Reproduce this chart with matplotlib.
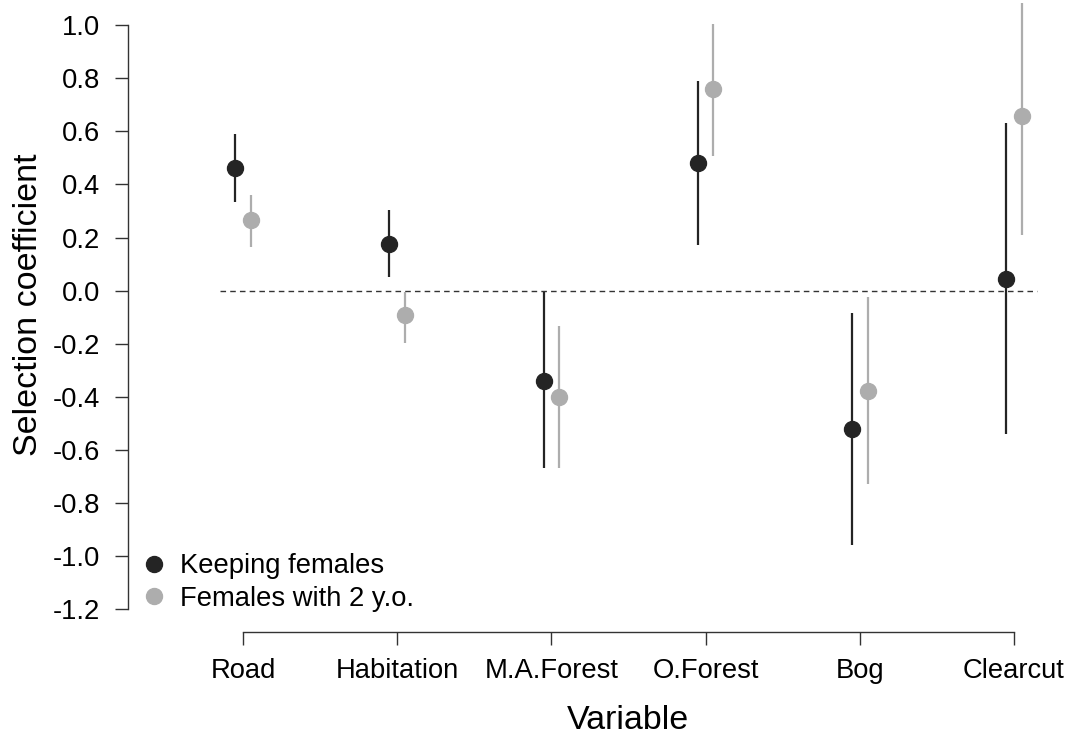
import numpy as np
import matplotlib
matplotlib.use('Agg')
from matplotlib import pyplot as plt

plt.rcParams['font.family'] = ['Liberation Sans', 'DejaVu Sans']

variables = ['Road', 'Habitation', 'M.A.Forest', 'O.Forest', 'Bog', 'Clearcut']
# Keeping females: estimate, lower and upper bound
keep_est = [0.46, 0.175, -0.34, 0.48, -0.52, 0.045]
keep_low = [0.335, 0.05, -0.67, 0.17, -0.96, -0.54]
keep_up = [0.59, 0.305, -0.005, 0.79, -0.085, 0.63]
# Females with 2 y.o.
yo_est = [0.265, -0.093, -0.40, 0.758, -0.377, 0.657]
yo_low = [0.165, -0.198, -0.668, 0.508, -0.73, 0.208]
yo_up = [0.36, -0.005, -0.134, 1.006, -0.023, 1.084]
yticks = [-1.2, -1.0, -0.8, -0.6, -0.4, -0.2, 0.0, 0.2, 0.4, 0.6, 0.8, 1.0]

dark = '#242424'
light = '#adadad'

fig = plt.figure(figsize=(10.7, 7.4), dpi=100)
ax = fig.add_axes([128/1070, 108/740, 942/1070, 632/740])

xx = np.arange(1, len(variables) + 1)
ax.plot([0.85, 6.15], [0, 0], '--', color='#333333', linewidth=1.0, dashes=(4, 3))

ax.vlines(xx - 0.05, keep_low, keep_up, color=dark, linewidth=1.6)
ax.vlines(xx + 0.05, yo_low, yo_up, color=light, linewidth=1.6)
ax.plot(xx - 0.05, keep_est, 'o', color=dark, markersize=11.5, label='Keeping females')
ax.plot(xx + 0.05, yo_est, 'o', color=light, markersize=11.5, label='Females with 2 y.o.')

ax.set_xlim(1 - 115/154.2, 1 + 827/154.2)
ax.set_ylim(-(632 - 290.6)/265.5, 290.6/265.5)

ax.spines['top'].set_visible(False)
ax.spines['right'].set_visible(False)
for s in ['left', 'bottom']:
    ax.spines[s].set_color('#333333')
    ax.spines[s].set_linewidth(1.0)
ax.spines['left'].set_bounds(-1.2, 1.0)
ax.spines['bottom'].set_bounds(1, 6)

ax.set_yticks(yticks)
ax.set_yticklabels(['%.1f' % v for v in yticks])
ax.set_xticks(xx)
ax.set_xticklabels(variables)
ax.tick_params(axis='both', length=9.4, width=1.0, color='#333333', labelsize=19.7)
ax.tick_params(axis='y', pad=10.8)
ax.tick_params(axis='x', pad=9)

ax.set_xlabel('Variable', fontsize=24.5)
ax.set_ylabel('Selection coefficient', fontsize=24.5)
ax.xaxis.set_label_coords((628 - 128)/942, -(705 - 632)/632)
ax.yaxis.set_label_coords((44 - 128)/942, (632 - 305)/632)

ax.legend(loc='center left', bbox_to_anchor=((140.5 - 128)/942, (632 - 582.5)/632),
          frameon=False, fontsize=19.7, handlelength=1.0, handletextpad=0.46,
          labelspacing=0.25, borderpad=0, borderaxespad=0)

fig.savefig('out.png', dpi=100)
